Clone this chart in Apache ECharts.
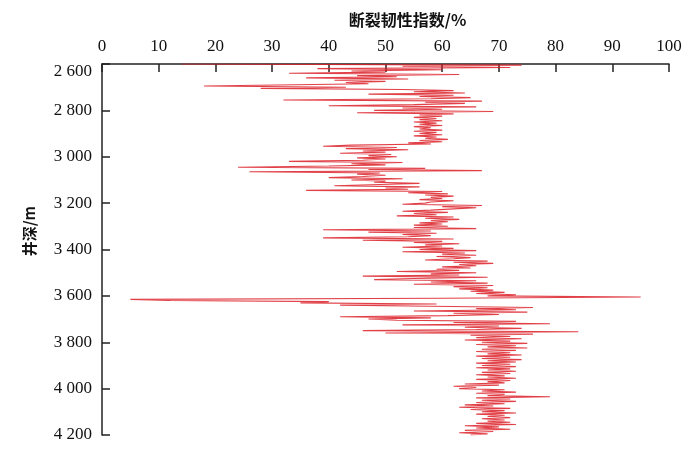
<!DOCTYPE html>
<html>
<head>
<meta charset="utf-8">
<script src="https://cdn.jsdelivr.net/npm/echarts@6/dist/echarts.min.js"></script>
<style>
html,body{margin:0;padding:0;background:#fff;}
#chart{width:700px;height:452px;}
</style>
</head>
<body>
<div id="chart"></div>
<script>
// Depth sampling grid (m)
const depthStart = 2600;
const depthStep = 5;
const yTicks = [2600, 2800, 3000, 3200, 3400, 3600, 3800, 4000, 4200];
const xTicks = [0, 10, 20, 30, 40, 50, 60, 70, 80, 90, 100];

// Fracture toughness index (%) read per 100 m segment, 5 m step
const seg2600 = [14, 74, 53, 72, 38, 60, 44, 50, 33, 63, 45, 52, 36, 54, 41, 50, 43, 47, 47, 18];
const seg2700 = [43, 28, 53, 62, 55, 64, 47, 62, 56, 65, 58, 32, 67, 57, 64, 55, 40, 66, 53, 60];
const seg2800 = [48, 69, 45, 62, 56, 60, 55, 59, 56, 60, 55, 59, 56, 60, 55, 58, 56, 60, 55, 59];
const seg2900 = [56, 60, 55, 59, 57, 61, 56, 60, 54, 58, 44, 39, 52, 43, 54, 46, 50, 42, 51, 47];
const seg3000 = [52, 45, 50, 46, 33, 53, 44, 50, 40, 24, 57, 47, 67, 26, 49, 45, 50, 46, 40, 53];
const seg3100 = [44, 50, 48, 56, 49, 41, 56, 50, 54, 36, 60, 54, 61, 57, 62, 58, 60, 56, 62, 58];
const seg3200 = [57, 53, 67, 60, 66, 62, 58, 53, 61, 55, 59, 52, 62, 57, 63, 58, 61, 56, 60, 55];
const seg3300 = [61, 55, 66, 39, 58, 47, 59, 53, 58, 54, 39, 62, 46, 60, 55, 63, 57, 60, 53, 62];
const seg3400 = [56, 66, 53, 64, 60, 66, 59, 65, 62, 57, 68, 62, 69, 63, 66, 60, 65, 59, 63, 52];
const seg3500 = [66, 58, 63, 46, 68, 55, 48, 66, 58, 68, 55, 69, 62, 68, 63, 69, 65, 71, 66, 73];
const seg3600 = [68, 95, 60, 5, 12, 40, 35, 59, 42, 58, 76, 66, 73, 55, 75, 62, 70, 61, 42, 58];
const seg3700 = [47, 52, 73, 62, 79, 53, 70, 64, 74, 66, 46, 84, 50, 76, 65, 72, 66, 74, 64, 72];
const seg3800 = [67, 75, 66, 73, 68, 75, 67, 73, 66, 72, 68, 74, 66, 72, 67, 74, 68, 73, 66, 72];
const seg3900 = [67, 73, 66, 72, 68, 73, 67, 72, 66, 71, 68, 73, 66, 72, 68, 71, 64, 70, 62, 66];
const seg4000 = [63, 71, 67, 73, 66, 71, 68, 79, 66, 72, 67, 73, 66, 71, 64, 69, 63, 72, 65, 71];
const seg4100 = [67, 73, 66, 71, 68, 72, 67, 71, 68, 72, 66, 73, 64, 70, 66, 72, 64, 69, 63, 68, 65];

const values = [].concat(seg2600, seg2700, seg2800, seg2900, seg3000, seg3100, seg3200,
  seg3300, seg3400, seg3500, seg3600, seg3700, seg3800, seg3900, seg4000, seg4100);
const points = values.map((v, i) => [v, depthStart + i * depthStep]);

const fmtDepth = v => {
  const s = String(v);
  const t = s.length > 3 ? s.slice(0, s.length - 3) + ' ' + s.slice(-3) : s;
  return v === 2600 ? '{first|' + t + '}' : t;
};

const chart = echarts.init(document.getElementById('chart'), null, {renderer: 'canvas'});
const serif = '"Liberation Serif", "Times New Roman", serif';
chart.setOption({
  backgroundColor: '#ffffff',
  animation: false,
  grid: {left: 102, right: 31, top: 64, bottom: 17},
  xAxis: {
    type: 'value', position: 'top', min: 0, max: 100, interval: 10,
    name: '断裂韧性指数/%', nameLocation: 'middle', nameGap: 36,
    nameTextStyle: {fontFamily: '"Noto Sans CJK SC", sans-serif', fontSize: 16, fontWeight: 'bold', color: '#111',
      padding: [0, 0, 0, 44]},
    axisLine: {show: true, lineStyle: {color: '#222', width: 1.5}},
    axisTick: {show: true, inside: true, length: 8, lineStyle: {color: '#222', width: 1.5}},
    axisLabel: {fontFamily: serif, fontSize: 17, color: '#111', margin: 9,
      formatter: v => xTicks.includes(v) ? String(v) : ''},
    splitLine: {show: false}
  },
  yAxis: {
    type: 'value', inverse: true, min: 2600, max: 4200, interval: 200,
    axisLine: {show: true, lineStyle: {color: '#222', width: 1.5}},
    axisTick: {show: true, inside: true, length: 8, lineStyle: {color: '#222', width: 1.5}},
    axisLabel: {fontFamily: serif, fontSize: 17, color: '#111', margin: 10,
      formatter: v => yTicks.includes(v) ? fmtDepth(v) : '',
      rich: {first: {fontFamily: serif, fontSize: 17, color: '#111', padding: [16, 0, 0, 0]}}},
    splitLine: {show: false}
  },
  graphic: [{
    type: 'text', left: 22, top: 206, rotation: Math.PI / 2,
    style: {text: '井深/m', font: 'bold 15px "Noto Sans CJK SC", sans-serif', fill: '#111'}
  }],
  series: [{
    type: 'line', data: points, showSymbol: false, symbol: 'none',
    lineStyle: {color: '#dc1f27', width: 1.1, opacity: 0.85},
    clip: true
  }]
});
</script>
</body>
</html>
